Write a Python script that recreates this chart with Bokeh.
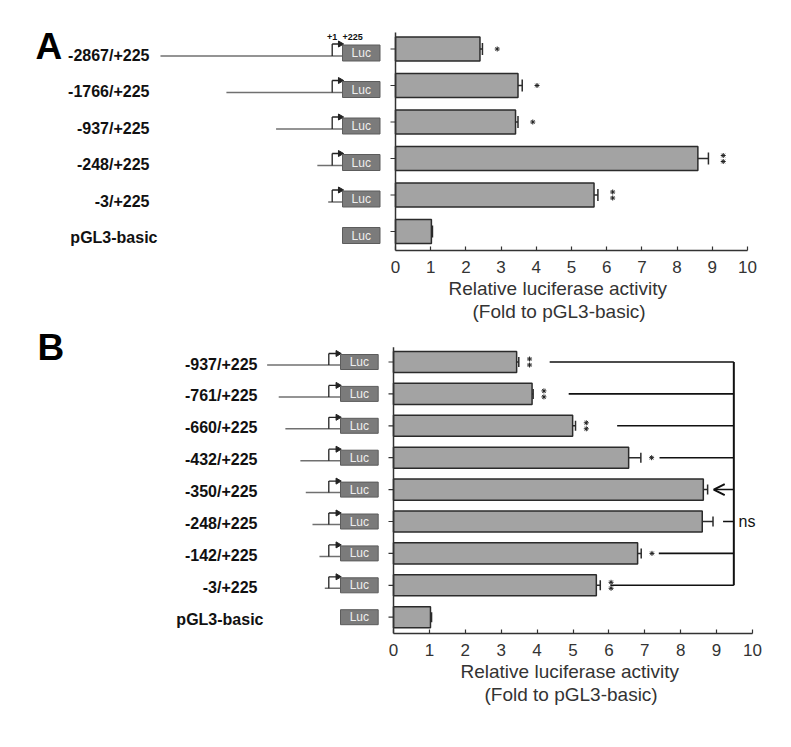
import math
from bokeh.plotting import figure
from bokeh.layouts import column
from bokeh.models import (Range1d, ColumnDataSource, Whisker, TeeHead, Arrow,
                          OpenHead, FixedTicker, Title)
from bokeh.core.properties import value
from bokeh.embed import file_html
from bokeh.resources import INLINE

# ---------------- data ----------------
a_labels = ["-2867/+225", "-1766/+225", "-937/+225", "-248/+225", "-3/+225", "pGL3-basic"]
a_start_bp = [-2867, -1766, -937, -248, -3, None]
a_values = [2.40, 3.48, 3.41, 8.59, 5.64, 1.02]
a_errors = [0.07, 0.12, 0.07, 0.30, 0.11, 0.03]
a_sig = ["*", "*", "*", "**", "**", ""]

b_labels = ["-937/+225", "-761/+225", "-660/+225", "-432/+225", "-350/+225",
            "-248/+225", "-142/+225", "-3/+225", "pGL3-basic"]
b_start_bp = [-937, -761, -660, -432, -350, -248, -142, -3, None]
b_values = [3.43, 3.86, 4.99, 6.55, 8.63, 8.60, 6.80, 5.65, 1.03]
b_errors = [0.06, 0.03, 0.08, 0.34, 0.12, 0.30, 0.10, 0.11, 0.03]
b_sig = ["**", "**", "**", "*", "", "", "*", "**", ""]

b_bracket_rows = ["-937/+225", "-761/+225", "-660/+225", "-432/+225", "-142/+225", "-3/+225"]
b_bracket_from = [4.35, 4.88, 6.23, 7.41, 7.39, 6.04]
b_bracket_x = 9.48
b_ref_row = "-350/+225"
b_ref_tip = 8.92
b_ns_row = "-248/+225"
b_ns_from = 9.18
b_ns_text = "ns"

x_ticks = list(range(0, 11))
axis_title = ["Relative luciferase activity", "(Fold to pGL3-basic)"]

# ---------------- style / layout ----------------
FONT = "Liberation Sans"
PAGE_W = 791
MARGIN = 0
BAR_H = 0.66
MIN_STUB_PX = 4

PANEL_A = dict(letter="A", kx=35.2, x0px=395, ky=36.5, y0px=231, top=0, bot=250, below=78,
               axis_top_px=32, bp_k=0.0599, tss_px=331.7, box_left_px=342, box_w_px=37.5,
               box_h_px=16, box_dy_px=4, arrow_end_px=341.7, label_right_px=149,
               pgl3_right_px=157, label_dy_px=6, letter_left_px=35, letter_cy_px=45.5,
               cap_px=12, star_gap=0.42, pos_labels=True, title_left_px=(448, 472))
PANEL_B = dict(letter="B", kx=35.9, x0px=393, ky=31.9, y0px=616.7, top=328, bot=633, below=78,
               axis_top_px=346.7, bp_k=0.0658, tss_px=328.3, box_left_px=340, box_w_px=37.7,
               box_h_px=15, box_dy_px=0, arrow_end_px=339.3, label_right_px=257,
               pgl3_right_px=263, label_dy_px=2, letter_left_px=37, letter_cy_px=346.5,
               cap_px=10, star_gap=0.30, pos_labels=False, title_left_px=(460, 484))


def make_panel(labels, starts, vals, errs, sig, C):
    n = len(labels)
    rows = [float(n - 1 - i) for i in range(n)]
    kx, ky, bpk = C["kx"], C["ky"], C["bp_k"]

    def X(px):
        return (px - C["x0px"]) / kx

    def Y(py):
        return (C["y0px"] - py) / ky

    def BP(px):
        return (px - C["tss_px"]) / bpk

    fh = int(round(C["bot"] - C["top"]))
    p = figure(x_range=Range1d(X(MARGIN), X(MARGIN + PAGE_W)),
               y_range=Range1d(Y(C["top"] + fh), Y(C["top"])),
               frame_width=PAGE_W, frame_height=fh, y_axis_location=None,
               toolbar_location=None, output_backend="svg",
               min_border_left=0, min_border_right=0, min_border_top=0,
               min_border_bottom=C["below"], outline_line_color=None,
               background_fill_color="white", border_fill_color="white")
    p.grid.visible = False
    p.extra_x_ranges = {"bp": Range1d(BP(MARGIN), BP(MARGIN + PAGE_W))}

    # bars
    p.hbar(y=rows, left=0, right=vals, height=BAR_H, fill_color="#a3a3a3",
           line_color="#2b2b2b", line_width=1.5)
    # error bars
    src = ColumnDataSource(dict(y=rows, lo=vals, hi=[v + e for v, e in zip(vals, errs)]))
    p.add_layout(Whisker(source=src, base="y", lower="lo", upper="hi", dimension="width",
                         line_color="#2b2b2b", line_width=1.5, lower_head=None,
                         upper_head=TeeHead(size=C["cap_px"], line_color="#2b2b2b",
                                            line_width=1.5)))
    # significance stars (asterisk markers; "**" stacked vertically)
    sx, sy = [], []
    for i in range(n):
        k = len(sig[i])
        for j in range(k):
            sx.append(vals[i] + errs[i] + C["star_gap"])
            sy.append(rows[i] + (j - (k - 1) / 2) * 6 / ky)
    p.scatter(x=sx, y=sy, marker="asterisk", size=5, line_color="#222222", line_width=1.0)

    # y axis (line + outward ticks)
    p.segment(x0=[0], y0=[Y(C["bot"])], x1=[0], y1=[Y(C["axis_top_px"])],
              line_color="#333333", line_width=1.5)
    p.segment(x0=[0] * n, x1=[-5 / kx] * n, y0=rows, y1=rows, line_color="#333333",
              line_width=1.2)

    # x axis
    ax = p.xaxis[0]
    ax.bounds = (0, 10)
    ax.ticker = FixedTicker(ticks=x_ticks)
    ax.major_tick_in = 4
    ax.major_tick_out = 0
    ax.minor_tick_line_color = None
    ax.axis_line_color = "#333333"
    ax.axis_line_width = 1.5
    ax.major_tick_line_color = "#333333"
    ax.major_tick_line_width = 1.2
    ax.major_label_text_font = FONT
    ax.major_label_text_font_size = "17px"
    ax.major_label_text_color = "#333333"
    ax.major_label_standoff = 10

    # axis title: two centred lines below the axis
    for txt, left in zip(axis_title, C["title_left_px"]):
        p.add_layout(Title(text=txt, align="left", offset=left - MARGIN, standoff=0,
                           text_font=FONT, text_font_size="19px", text_font_style="normal",
                           text_color="#333333"), "below")

    # construct diagrams
    half = C["box_h_px"] / 2 / ky
    ycb = [r - C["box_dy_px"] / ky for r in rows]
    box_l = BP(C["box_left_px"])
    box_r = BP(C["box_left_px"] + C["box_w_px"])
    has = [i for i in range(n) if starts[i] is not None]
    y_line = [ycb[i] - 3 / ky for i in has]
    y_arr = [ycb[i] + half + 1 / ky for i in has]
    p.segment(x0=[min(starts[i], -MIN_STUB_PX / bpk) for i in has], x1=[box_l] * len(has),
              y0=y_line, y1=y_line, line_color="#707070", line_width=1.5, x_range_name="bp")
    p.segment(x0=[0] * len(has), x1=[0] * len(has), y0=y_line, y1=y_arr,
              line_color="#222222", line_width=1.3, x_range_name="bp")
    a_end = BP(C["arrow_end_px"] - 2)
    p.segment(x0=[0] * len(has), x1=[a_end] * len(has), y0=y_arr, y1=y_arr,
              line_color="#222222", line_width=1.3, x_range_name="bp")
    p.scatter(x=[a_end] * len(has), y=y_arr, marker="triangle", size=6, angle=-math.pi / 2,
              fill_color="#222222", line_color="#222222", x_range_name="bp")
    p.quad(left=[box_l] * n, right=[box_r] * n, top=[y + half for y in ycb],
           bottom=[y - half for y in ycb], fill_color="#7b7b7b", line_color="#5c5c5c",
           line_width=1, x_range_name="bp")
    p.text(x=[(box_l + box_r) / 2] * n, y=ycb, text=["Luc"] * n, x_range_name="bp",
           text_align="center", text_baseline="middle", text_font=value(FONT),
           text_font_size="12px", text_color="#eeeeee")
    if C["pos_labels"]:
        yy = y_arr[0] + 7 / ky
        p.text(x=[0], y=[yy], text=["+1"], x_range_name="bp", text_align="center",
               text_baseline="middle", text_font=value(FONT), text_font_size="9px",
               text_font_style="bold", text_color="#111111")
        p.text(x=[box_l], y=[yy], text=["+225"], x_range_name="bp", text_align="left",
               text_baseline="middle", text_font=value(FONT), text_font_size="9px",
               text_font_style="bold", text_color="#111111")

    # row labels
    main = [i for i in range(n) if starts[i] is not None]
    p.text(x=[X(C["label_right_px"])] * len(main), y=[rows[i] for i in main],
           text=[labels[i] for i in main], y_offset=C["label_dy_px"], text_align="right",
           text_baseline="middle", text_font=value(FONT), text_font_size="16px",
           text_font_style="bold", text_color="#111111")
    other = [i for i in range(n) if starts[i] is None]
    p.text(x=[X(C["pgl3_right_px"])] * len(other), y=[rows[i] for i in other],
           text=[labels[i] for i in other], y_offset=C["label_dy_px"], text_align="right",
           text_baseline="middle", text_font=value(FONT), text_font_size="16px",
           text_font_style="bold", text_color="#111111")

    # panel letter
    p.text(x=[X(C["letter_left_px"])], y=[Y(C["letter_cy_px"])], text=[C["letter"]],
           text_align="left", text_baseline="middle", text_font=value(FONT),
           text_font_size="37px", text_font_style="bold", text_color="#000000")

    rowmap = {lab: r for lab, r in zip(labels, rows)}
    return p, rowmap


pA, _ = make_panel(a_labels, a_start_bp, a_values, a_errors, a_sig, PANEL_A)
pB, rb = make_panel(b_labels, b_start_bp, b_values, b_errors, b_sig, PANEL_B)

# bracket annotations on panel B
br_y = [rb[r] for r in b_bracket_rows]
pB.segment(x0=b_bracket_from, x1=[b_bracket_x] * len(br_y), y0=br_y, y1=br_y,
           line_color="#111111", line_width=1.6)
pB.segment(x0=[b_bracket_x], x1=[b_bracket_x], y0=[max(br_y)], y1=[min(br_y)],
           line_color="#111111", line_width=2)
pB.segment(x0=[b_ns_from], x1=[b_bracket_x], y0=[rb[b_ns_row]], y1=[rb[b_ns_row]],
           line_color="#111111", line_width=1.4)
pB.add_layout(Arrow(end=OpenHead(size=11, line_width=2, line_color="#111111"),
                    x_start=b_bracket_x, y_start=rb[b_ref_row], x_end=b_ref_tip,
                    y_end=rb[b_ref_row], line_color="#111111", line_width=1.5))
pB.text(x=[b_bracket_x + 0.13], y=[rb[b_ns_row]], text=[b_ns_text], text_align="left",
        text_baseline="middle", text_font=value(FONT), text_font_size="16px",
        text_color="#111111")

layout = column(pA, pB, spacing=0)
open("out.html", "w").write(file_html(layout, INLINE))
